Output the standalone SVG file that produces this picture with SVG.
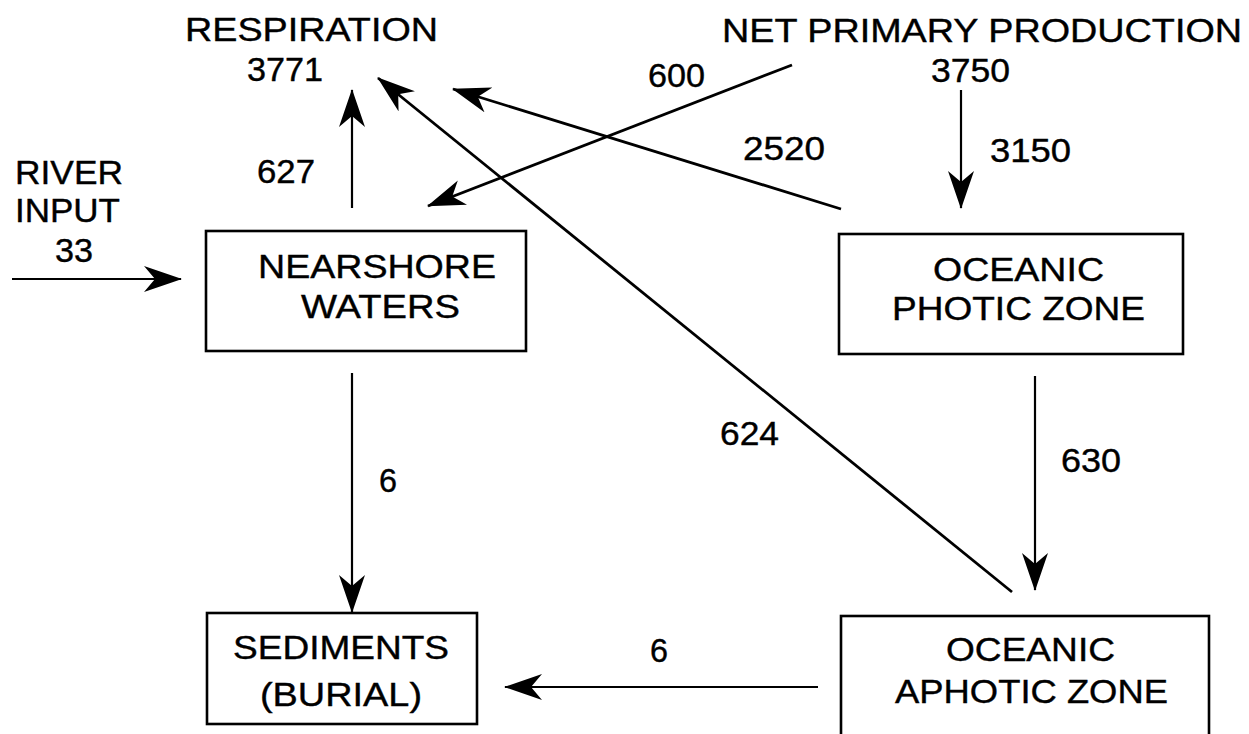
<svg xmlns="http://www.w3.org/2000/svg" width="1249" height="734" viewBox="0 0 1249 734">
<style>
text{font-family:"Liberation Sans",Arial,sans-serif;fill:#000;stroke:#000;stroke-width:0.4;}
.lbl{font-size:34px;}
.num{font-size:33px;}
.box{fill:#fff;stroke:#000;stroke-width:2.6;}
.c{fill:none;stroke:#000;stroke-width:2.2;}
.d{fill:none;stroke:#000;stroke-width:2.8;}
</style>
<defs>
<marker id="ah" markerUnits="userSpaceOnUse" markerWidth="40" markerHeight="28" refX="37" refY="13" orient="auto" viewBox="0 0 40 28">
<path d="M38,13 L0,0 L11,13 L0,26 Z" fill="#000"/>
</marker>
</defs>
<rect width="1249" height="734" fill="#fff"/>

<g id="respiration">
<text class="lbl" x="185" y="41" textLength="253" lengthAdjust="spacingAndGlyphs">RESPIRATION</text>
<text class="num" x="247" y="81" textLength="76" lengthAdjust="spacingAndGlyphs">3771</text>
</g>
<g id="npp">
<text class="lbl" x="722" y="42" textLength="520" lengthAdjust="spacingAndGlyphs">NET PRIMARY PRODUCTION</text>
<text class="num" x="931" y="82" textLength="79" lengthAdjust="spacingAndGlyphs">3750</text>
</g>
<g id="river">
<text class="lbl" x="15" y="184" textLength="108" lengthAdjust="spacingAndGlyphs">RIVER</text>
<text class="lbl" x="15" y="222" textLength="105" lengthAdjust="spacingAndGlyphs">INPUT</text>
<text class="num" x="55" y="262" textLength="38" lengthAdjust="spacingAndGlyphs">33</text>
</g>
<g id="nearshore">
<rect class="box" x="206" y="231" width="320" height="120"/>
<text class="lbl" x="258" y="278" textLength="238" lengthAdjust="spacingAndGlyphs">NEARSHORE</text>
<text class="lbl" x="301" y="318" textLength="159" lengthAdjust="spacingAndGlyphs">WATERS</text>
</g>
<g id="photic">
<rect class="box" x="839" y="234" width="344" height="120"/>
<text class="lbl" x="933" y="281" textLength="171" lengthAdjust="spacingAndGlyphs">OCEANIC</text>
<text class="lbl" x="892" y="320" textLength="253" lengthAdjust="spacingAndGlyphs">PHOTIC ZONE</text>
</g>
<g id="sediments">
<rect class="box" x="207" y="613" width="270" height="111"/>
<text class="lbl" x="233" y="659" textLength="216" lengthAdjust="spacingAndGlyphs">SEDIMENTS</text>
<text class="lbl" x="260" y="706" textLength="162" lengthAdjust="spacingAndGlyphs">(BURIAL)</text>
</g>
<g id="aphotic">
<rect class="box" x="841" y="616" width="368" height="130"/>
<text class="lbl" x="946" y="661" textLength="169" lengthAdjust="spacingAndGlyphs">OCEANIC</text>
<text class="lbl" x="895" y="703" textLength="273" lengthAdjust="spacingAndGlyphs">APHOTIC ZONE</text>
</g>

<g id="connectors">
<line class="c" x1="12" y1="279" x2="181" y2="279" marker-end="url(#ah)"/>
<line class="c" x1="352" y1="208" x2="352" y2="90" marker-end="url(#ah)"/>
<line class="d" x1="792" y1="65" x2="428" y2="206" marker-end="url(#ah)"/>
<line class="d" x1="841" y1="209" x2="453" y2="89" marker-end="url(#ah)"/>
<line class="d" x1="1012" y1="592" x2="378" y2="78" marker-end="url(#ah)"/>
<line class="c" x1="961" y1="90" x2="961" y2="208" marker-end="url(#ah)"/>
<line class="c" x1="1035" y1="376" x2="1035" y2="590" marker-end="url(#ah)"/>
<line class="c" x1="352" y1="373" x2="352" y2="612" marker-end="url(#ah)"/>
<line class="c" x1="818" y1="687" x2="505" y2="687" marker-end="url(#ah)"/>
</g>

<g id="flow-labels">
<text class="num" x="648" y="87" textLength="57" lengthAdjust="spacingAndGlyphs">600</text>
<text class="num" x="743" y="160" textLength="82" lengthAdjust="spacingAndGlyphs">2520</text>
<text class="num" x="990" y="162" textLength="81" lengthAdjust="spacingAndGlyphs">3150</text>
<text class="num" x="257" y="183" textLength="58" lengthAdjust="spacingAndGlyphs">627</text>
<text class="num" x="720" y="445" textLength="59" lengthAdjust="spacingAndGlyphs">624</text>
<text class="num" x="1061" y="472" textLength="60" lengthAdjust="spacingAndGlyphs">630</text>
<text class="num" x="379" y="492" textLength="18" lengthAdjust="spacingAndGlyphs">6</text>
<text class="num" x="650" y="662" textLength="18" lengthAdjust="spacingAndGlyphs">6</text>
</g>
</svg>
